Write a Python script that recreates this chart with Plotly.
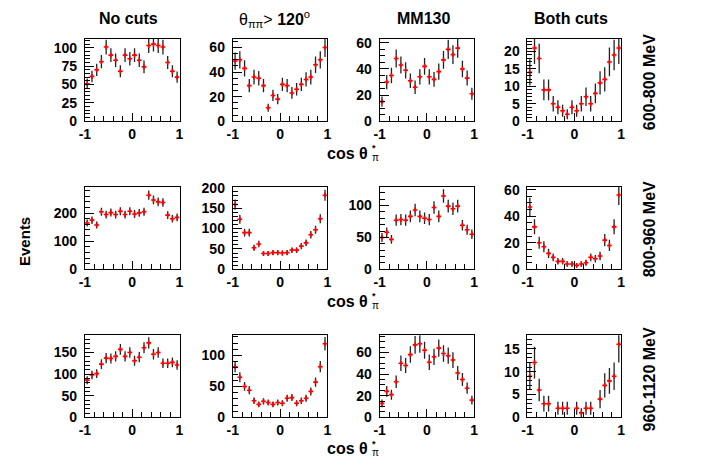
import math
import plotly.graph_objects as go

W, H = 704, 468

# bin centres of cos(theta*_pi)
cos_bins = [-0.95, -0.85, -0.75, -0.65, -0.55, -0.45, -0.35, -0.25, -0.15, -0.05,
            0.05, 0.15, 0.25, 0.35, 0.45, 0.55, 0.65, 0.75, 0.85, 0.95]

col_titles = ["No cuts", "θ<sub>ππ</sub>> <b>120</b><sup>o</sup>", "MM130", "Both cuts"]
row_labels = ["600-800 MeV", "800-960 MeV", "960-1120 MeV"]

# Row 1: 600-800 MeV
r1_nocuts = [51, 61, 70, 81, 101, 90, 83, 68, 90, 85, 90, 83, 74, 103, 105, 103, 101, 80, 68, 60]
r1_theta = [49, 50, 43, 29, 36, 35, 29, 11, 21, 18, 30, 29, 23, 26, 30, 34, 36, 46, 50, 60]
r1_mm130 = [15, 30, 35, 48, 43, 39, 31, 26, 34, 42, 34, 32, 38, 47, 55, 51, 56, 40, 33, 21]
r1_both = [14, 21, 18, 9, 9, 5, 4, 3, 2, 4, 3, 5, 7, 5, 8, 11, 12, 17, 19, 21]
# Row 2: 800-960 MeV
r2_nocuts = [165, 175, 158, 205, 195, 202, 195, 207, 195, 207, 197, 201, 205, 264, 247, 240, 238, 193, 180, 185]
r2_theta = [159, 123, 90, 90, 53, 62, 39, 39, 41, 41, 40, 41, 47, 47, 57, 65, 85, 97, 124, 182]
r2_mm130 = [50, 58, 47, 77, 78, 77, 83, 93, 83, 80, 78, 97, 83, 115, 99, 95, 99, 69, 62, 55]
r2_both = [47, 32, 20, 17, 12, 9, 6, 6, 4, 4, 3, 4, 5, 9, 8, 10, 22, 18, 32, 56]
# Row 3: 960-1120 MeV
r3_nocuts = [86, 98, 101, 123, 137, 136, 141, 157, 141, 150, 131, 139, 161, 172, 146, 150, 125, 125, 127, 121]
r3_theta = [82, 65, 50, 44, 27, 21, 26, 24, 21, 24, 23, 31, 32, 23, 27, 31, 42, 57, 82, 119]
r3_mm130 = [13, 24, 21, 33, 50, 48, 58, 67, 68, 62, 51, 56, 64, 59, 57, 53, 41, 35, 27, 16]
r3_both = [9, 12, 6, 3, 3, 0, 2, 2, 2, 0, 2, 1, 2, 2, 0, 4, 7, 8, 9, 16]

panels = [
    [r1_nocuts, r1_theta, r1_mm130, r1_both],
    [r2_nocuts, r2_theta, r2_mm130, r2_both],
    [r3_nocuts, r3_theta, r3_mm130, r3_both],
]
y_max = [[112, 67, 63, 23.6], [293, 202, 129, 62], [190, 133, 76, 18]]
y_dtick = [[25, 20, 20, 5], [100, 50, 50, 20], [50, 50, 20, 5]]
y_minor = [[5, 5, 5, 1], [20, 10, 10, 5], [10, 10, 5, 1]]

# frame positions in pixels
col_px = [(80, 176), (230, 326), (379, 475), (529, 624)]
row_px = [(33, 118), (186, 271), (339, 424)]

fig = go.Figure()
tickfont = dict(family="Liberation Sans", size=14, color="black", weight="bold")

n = 0
for r in range(3):
    for c in range(4):
        n += 1
        sfx = "" if n == 1 else str(n)
        vals = panels[r][c]
        ys = [v if v > 0 else None for v in vals]
        errs = [math.sqrt(v) if v > 0 else None for v in vals]
        fig.add_trace(go.Scatter(
            x=cos_bins, y=ys, mode="markers",
            marker=dict(symbol="cross", size=4, color="red", line=dict(width=0)),
            error_y=dict(type="data", array=errs, visible=True, color="#222222",
                         thickness=1.3, width=0),
            error_x=dict(type="constant", value=0.02, visible=True, color="red",
                         thickness=1.3, width=0),
            xaxis="x" + sfx, yaxis="y" + sfx, showlegend=False,
        ))
        x0, x1 = col_px[c]
        yt, yb = row_px[r]
        fig.layout["xaxis" + sfx] = dict(
            domain=[x0 / W, x1 / W], anchor="y" + sfx, range=[-1, 1],
            tickmode="array", tickvals=[-1, 0, 1], ticktext=["-1", "0", "1"],
            ticks="inside", ticklen=8, tickcolor="black", tickwidth=1,
            minor=dict(ticks="inside", ticklen=5, dtick=0.2, tick0=-1, tickcolor="black"),
            showline=True, linecolor="black", linewidth=1, mirror=True,
            showgrid=False, zeroline=False, tickfont=tickfont, ticklabelstandoff=0,
        )
        fig.layout["yaxis" + sfx] = dict(
            domain=[1 - yb / H, 1 - yt / H], anchor="x" + sfx, range=[0, y_max[r][c]],
            dtick=y_dtick[r][c], tick0=0,
            ticks="inside", ticklen=9, tickcolor="black", tickwidth=1,
            minor=dict(ticks="inside", ticklen=5, dtick=y_minor[r][c], tick0=0, tickcolor="black"),
            showline=True, linecolor="black", linewidth=1, mirror=True,
            showgrid=False, zeroline=False, tickfont=tickfont, ticklabelstandoff=4,
        )

ann = []
title_font = dict(family="Liberation Sans", size=16, color="black", weight="bold")
small_font = dict(family="Liberation Sans", size=9, color="black", weight="bold")
col_cx = [124, 272, 424, 573]
for c, t in enumerate(col_titles):
    f = dict(title_font)
    if c == 1:
        f = dict(family="Liberation Sans", size=16, color="black")
    ann.append(dict(text=t, x=col_cx[c] / W, y=1 - 12 / H, xref="paper", yref="paper",
                    showarrow=False, font=f, xanchor="center", yanchor="middle"))
row_cy = [78, 230, 385]
for r, t in enumerate(row_labels):
    ann.append(dict(text=t, x=653 / W, y=1 - row_cy[r] / H, xref="paper", yref="paper",
                    showarrow=False, font=title_font, textangle=-90,
                    xanchor="center", yanchor="middle"))
xt_cy = [151, 304, 456]
for r in range(3):
    cy = xt_cy[r]
    ann.append(dict(text="cos θ", x=369 / W, y=1 - cy / H,
                    xref="paper", yref="paper", showarrow=False, font=title_font,
                    xanchor="right", yanchor="middle"))
    ann.append(dict(text="*", x=369.5 / W, y=1 - (cy - 5) / H,
                    xref="paper", yref="paper", showarrow=False, font=small_font,
                    xanchor="left", yanchor="middle"))
    ann.append(dict(text="π", x=369 / W, y=1 - (cy + 4) / H,
                    xref="paper", yref="paper", showarrow=False,
                    font=dict(family="Liberation Sans", size=10, color="black"),
                    xanchor="left", yanchor="middle"))
ann.append(dict(text="Events", x=19 / W, y=1 - 242 / H, xref="paper", yref="paper",
                showarrow=False, font=dict(title_font, size=15), textangle=-90,
                xanchor="center", yanchor="middle"))

fig.update_layout(
    width=W, height=H, margin=dict(l=0, r=0, t=0, b=0),
    paper_bgcolor="white", plot_bgcolor="white", annotations=ann,
)
fig.write_html("out.html")
